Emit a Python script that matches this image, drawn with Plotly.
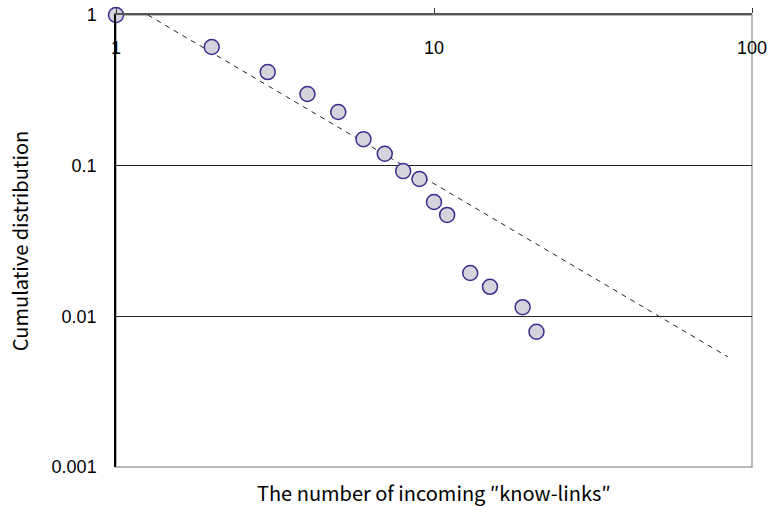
import plotly.graph_objects as go

# Data (log-log cumulative distribution)
links = [1, 2, 3, 4, 5, 6, 7, 8, 9, 10, 11, 13, 15, 19, 21]
cumdist = [1.0, 0.613, 0.418, 0.299, 0.227, 0.150, 0.120, 0.092, 0.0816,
           0.0574, 0.0471, 0.0194, 0.0157, 0.0115, 0.0079]

# Fitted power-law line endpoints
fit_x = [1.26, 84.0]
fit_y = [1.0, 0.00538]

x_ticks = [1, 10, 100]
x_ticklabels = ["1", "10", "100"]
y_ticks = [1, 0.1, 0.01, 0.001]
y_ticklabels = ["1", "0.1", "0.01", "0.001"]

fig = go.Figure()

fig.add_trace(go.Scatter(
    x=fit_x, y=fit_y, mode="lines",
    line=dict(color="#222222", width=1, dash="5px,5px"),
    hoverinfo="skip", showlegend=False, cliponaxis=False,
))

fig.add_trace(go.Scatter(
    x=links, y=cumdist, mode="markers",
    marker=dict(size=15, color="#d4d4dc", line=dict(color="#3d2b8e", width=1.5)),
    showlegend=False, cliponaxis=False,
))

# invisible trace on the label axis so it is drawn
fig.add_trace(go.Scatter(
    x=[1, 100], y=[1, 1], xaxis="x2", mode="markers",
    marker=dict(opacity=0), hoverinfo="skip", showlegend=False,
))

tick_font = dict(family="Liberation Sans, Arial, sans-serif", size=18, color="#000000")
title_font = dict(family="Noto Sans CJK JP, sans-serif", size=20, color="#000000")

# plot-area border (gray right/bottom)
fig.add_shape(type="rect", xref="paper", yref="paper", x0=0, y0=0, x1=1, y1=1,
              line=dict(color="#a0a0a0", width=1.5), layer="below")

fig.update_layout(
    width=771, height=506,
    margin=dict(l=116, r=19, t=15, b=39),
    paper_bgcolor="white", plot_bgcolor="white",
    xaxis=dict(
        type="log", range=[0, 2], side="top",
        tickvals=x_ticks, ticktext=x_ticklabels, showticklabels=False,
        ticks="outside", ticklen=5, tickcolor="#333333", tickwidth=1,
        showline=True, linecolor="#555555", linewidth=2,
        showgrid=False, zeroline=False, automargin=False,
    ),
    xaxis2=dict(
        type="log", range=[0, 2], overlaying="x", anchor="free",
        position=0.955, side="bottom",
        tickvals=x_ticks, ticktext=x_ticklabels, ticks="",
        showline=False, showgrid=False, zeroline=False, automargin=False,
        tickfont=tick_font,
    ),
    yaxis=dict(
        type="log", range=[-3, 0],
        tickvals=y_ticks, ticktext=y_ticklabels,
        ticks="", ticklabelstandoff=14,
        showline=True, linecolor="#000000", linewidth=1.5,
        showgrid=True, gridcolor="#222222", gridwidth=1.2,
        zeroline=False, automargin=False,
        tickfont=tick_font,
        title=dict(text="Cumulative distribution", font=title_font, standoff=18),
    ),
    annotations=[dict(
        text="The number of incoming ″know-links″",
        xref="paper", yref="paper", x=0.5, y=0, yshift=-25,
        xanchor="center", yanchor="middle", showarrow=False, font=title_font,
    )],
)

fig.write_html("out.html", config={"displayModeBar": False},
               post_script="document.body.style.margin='0';")
